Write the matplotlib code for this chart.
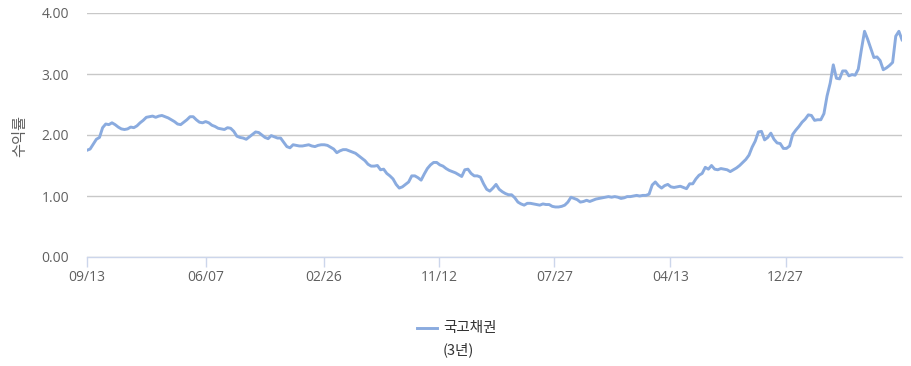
import matplotlib
matplotlib.use("Agg")
import matplotlib.pyplot as plt
from matplotlib.lines import Line2D
import pandas as pd

plt.rcParams['font.family'] = ['Open Sans', 'Noto Sans CJK KR', 'DejaVu Sans']

# Weekly 3-year treasury bond yield (%), starting 2017-09-13
start_date = "2017-09-13"
yields = [
    1.75, 1.77, 1.85, 1.93, 1.96, 2.12, 2.18, 2.17, 2.20, 2.17,
    2.13, 2.10, 2.09, 2.10, 2.13, 2.12, 2.15, 2.20, 2.24, 2.29,
    2.30, 2.31, 2.29, 2.31, 2.32, 2.30, 2.28, 2.25, 2.22, 2.18,
    2.17, 2.21, 2.25, 2.30, 2.30, 2.25, 2.21, 2.20, 2.22, 2.20,
    2.16, 2.14, 2.11, 2.10, 2.09, 2.12, 2.11, 2.06, 1.98, 1.96,
    1.95, 1.93, 1.97, 2.01, 2.05, 2.04, 2.00, 1.96, 1.94, 1.99,
    1.97, 1.95, 1.95, 1.88, 1.81, 1.79, 1.84, 1.83, 1.82, 1.82,
    1.83, 1.84, 1.82, 1.81, 1.83, 1.84, 1.84, 1.83, 1.80, 1.77,
    1.71, 1.74, 1.76, 1.76, 1.74, 1.72, 1.70, 1.66, 1.62, 1.58,
    1.52, 1.49, 1.49, 1.50, 1.43, 1.44, 1.37, 1.33, 1.28, 1.19,
    1.13, 1.15, 1.19, 1.23, 1.33, 1.33, 1.30, 1.26, 1.36, 1.45,
    1.51, 1.55, 1.55, 1.51, 1.49, 1.45, 1.42, 1.40, 1.38, 1.35,
    1.32, 1.43, 1.44, 1.37, 1.33, 1.33, 1.31, 1.20, 1.11, 1.08,
    1.13, 1.19, 1.11, 1.07, 1.04, 1.02, 1.02, 0.97, 0.90, 0.87,
    0.85, 0.88, 0.88, 0.87, 0.86, 0.85, 0.87, 0.86, 0.86, 0.83,
    0.82, 0.82, 0.83, 0.85, 0.90, 0.98, 0.96, 0.94, 0.90, 0.91,
    0.93, 0.91, 0.93, 0.95, 0.96, 0.97, 0.98, 0.99, 0.98, 0.99,
    0.98, 0.96, 0.97, 0.99, 0.99, 1.00, 1.01, 1.00, 1.01, 1.01,
    1.03, 1.18, 1.23, 1.17, 1.13, 1.17, 1.19, 1.15, 1.14, 1.15,
    1.16, 1.14, 1.12, 1.20, 1.20, 1.28, 1.34, 1.37, 1.47, 1.44,
    1.50, 1.44, 1.43, 1.45, 1.44, 1.43, 1.40, 1.43, 1.46, 1.50,
    1.55, 1.60, 1.67, 1.80, 1.90, 2.05, 2.06, 1.92, 1.96, 2.03,
    1.93, 1.87, 1.86, 1.78, 1.78, 1.82, 2.01, 2.08, 2.14, 2.21,
    2.26, 2.33, 2.32, 2.24, 2.25, 2.25, 2.35, 2.64, 2.85, 3.15,
    2.93, 2.92, 3.05, 3.05, 2.97, 2.99, 2.98, 3.08, 3.40, 3.70,
    3.57, 3.42, 3.27, 3.28, 3.22, 3.07, 3.10, 3.14, 3.19, 3.62,
    3.70, 3.56,
]
tick_dates = ["2017-09-13", "2018-06-07", "2019-02-26", "2019-11-12",
              "2020-07-27", "2021-04-13", "2021-12-27"]
tick_labels = ["09/13", "06/07", "02/26", "11/12", "07/27", "04/13", "12/27"]
y_ticks = [0, 1, 2, 3, 4]
series_name = "국고채권"
series_sub = "(3년)"

dates = pd.date_range(start_date, periods=len(yields), freq="7D")

W, H = 912, 366
fig = plt.figure(figsize=(W / 100, H / 100), dpi=100)
ax = fig.add_axes([87 / W, (H - 257) / H, (902 - 87) / W, (257 - 13) / H])

line_color = "#8aabdf"
ax.plot(dates, yields, color=line_color, lw=2.1, solid_joinstyle="round")

ax.set_xlim(dates[0], dates[-1])
ax.set_ylim(0, 4)
ax.set_yticks(y_ticks)
ax.set_yticklabels([f"{v:.2f}" for v in y_ticks])
ax.set_xticks(pd.to_datetime(tick_dates))
ax.set_xticklabels(tick_labels)

for s in ["top", "right", "left"]:
    ax.spines[s].set_visible(False)
ax.spines["bottom"].set_color("#ccd6eb")
ax.spines["bottom"].set_linewidth(1.0)

ax.grid(axis="y", color="#c8c8c8", lw=1.0)
ax.set_axisbelow(True)
ax.tick_params(axis="y", length=0, pad=13, labelsize=10, labelcolor="#606060")
ax.tick_params(axis="x", length=7.5, width=1, color="#ccd6eb", pad=2,
               labelsize=10, labelcolor="#606060")
for lbl in ax.get_xticklabels() + ax.get_yticklabels():
    lbl.set_fontfamily(['Open Sans', 'Noto Sans CJK KR'])

fig.text(20 / W, (H - 136) / H, "수익률", rotation=90, ha="center", va="center",
         fontsize=11, color="#606060", family=['Noto Sans CJK KR', 'DejaVu Sans'])

# legend
fig.add_artist(Line2D([417 / W, 437 / W], [(H - 328) / H, (H - 328) / H],
                      color=line_color, lw=2.1, transform=fig.transFigure))
fig.text(443 / W, (H - 328) / H, series_name, ha="left", va="center",
         fontsize=10.5, color="#333333", family=['Noto Sans CJK KR', 'DejaVu Sans'])
fig.text(443 / W, (H - 350) / H, series_sub, ha="left", va="center",
         fontsize=10.5, color="#333333", family=['Noto Sans CJK KR', 'DejaVu Sans'])

fig.savefig("out.png", dpi=100)
